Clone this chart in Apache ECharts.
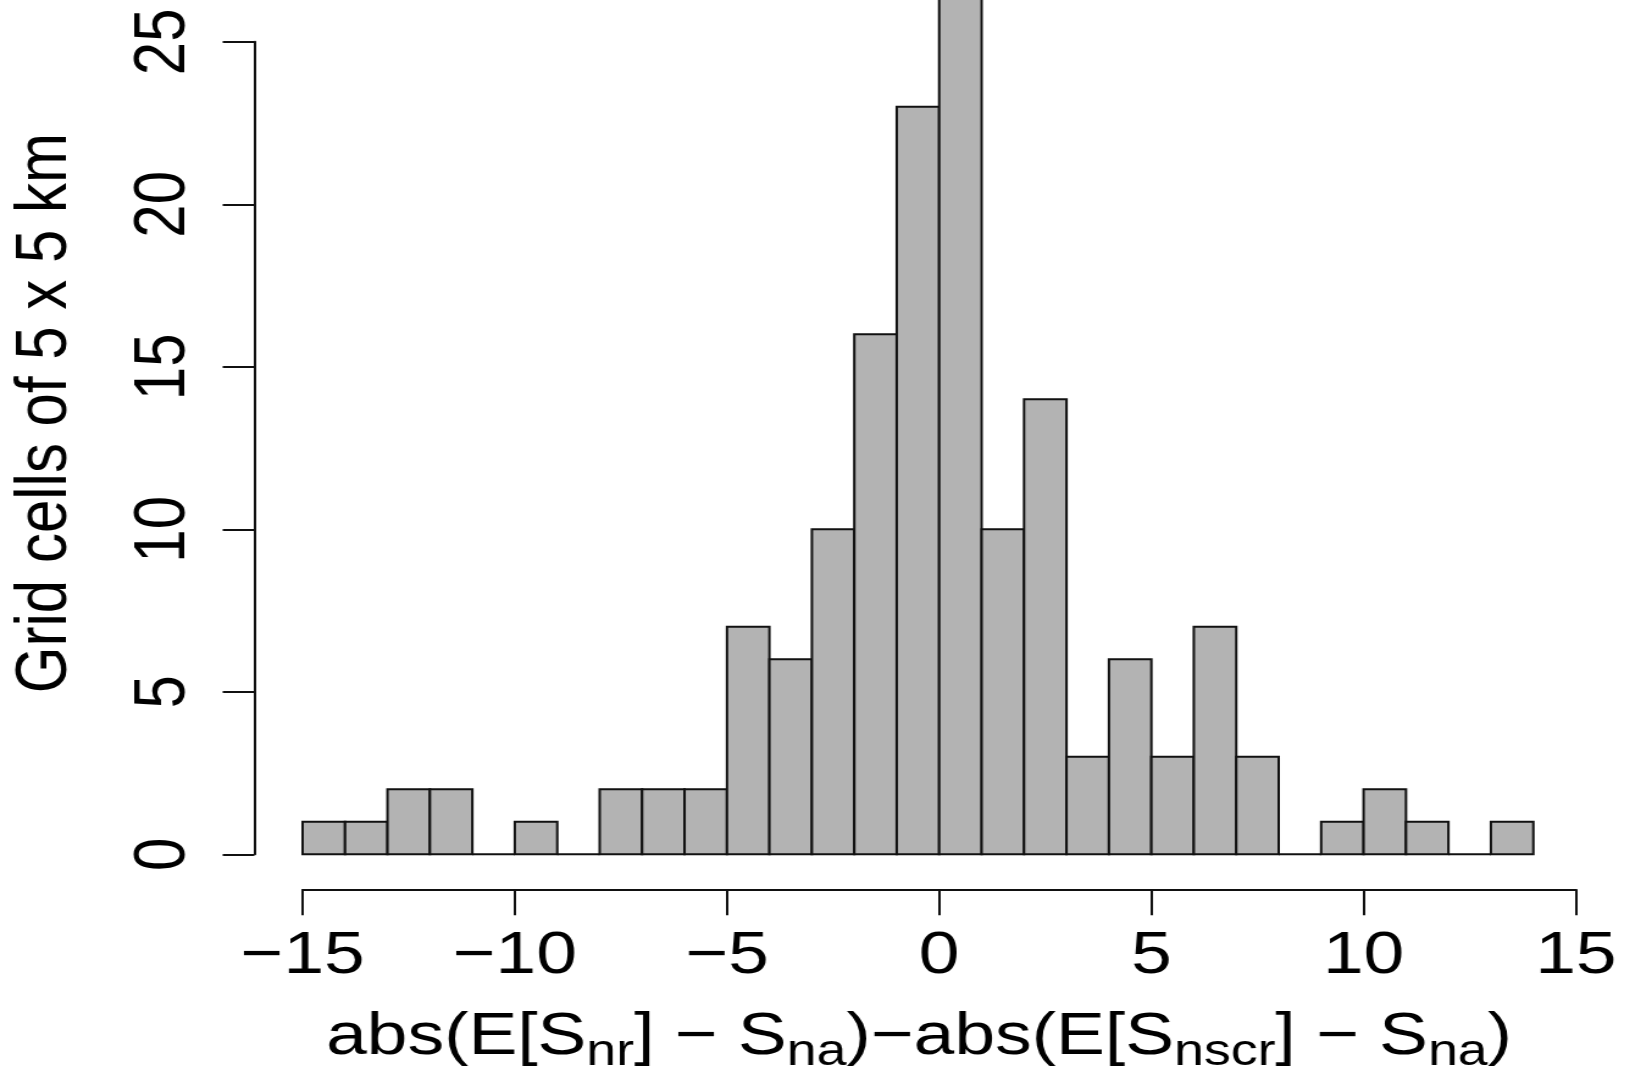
<!DOCTYPE html>
<html>
<head>
<meta charset="utf-8">
<script src="https://cdn.jsdelivr.net/npm/echarts@6/dist/echarts.min.js"></script>
<style>
  html, body { margin: 0; padding: 0; background: #fff; overflow: hidden; }
  #c { width: 1336px; height: 1075px; transform: scaleX(1.2201); transform-origin: 0 0; }
</style>
</head>
<body>
<div id="c"></div>
<script>
// Histogram bins (width 1) and counts
const binStarts = [-15,-14,-13,-12,-11,-10,-9,-8,-7,-6,-5,-4,-3,-2,-1,0,1,2,3,4,5,6,7,8,9,10,11,12,13];
const binWidth = 1;
const counts    = [1,1,2,2,0,1,0,2,2,2,7,6,10,16,23,27,10,14,3,6,3,7,3,0,1,2,1,0,1];
const xTickLabels = [-15,-10,-5,0,5,10,15];
const yTickLabels = [0,5,10,15,20,25];

const FONT = '"Liberation Sans", Arial, sans-serif';
const data = binStarts.map((s, i) => [s, s + binWidth, counts[i]]);

const chart = echarts.init(document.getElementById('c'), null, {renderer: 'canvas'});
chart.setOption({
  animation: false,
  backgroundColor: '#fff',
  grid: { left: 248, right: 44.5, top: 41.8, bottom: 220.7, containLabel: false, outerBoundsMode: 'none' },
  xAxis: {
    type: 'value',
    min: xTickLabels[0], max: xTickLabels[xTickLabels.length - 1], interval: 5,
    offset: 35,
    splitLine: { show: false },
    axisLine: { show: true, onZero: false, lineStyle: { color: '#111', width: 2 } },
    axisTick: { show: true, inside: false, length: 26, lineStyle: { color: '#111', width: 2 } },
    axisLabel: {
      margin: 37, fontSize: 60, fontFamily: FONT, color: '#000',
      formatter: v => String(v).replace('-', '\u2212')
    },
    name: '{n|abs(E[S}{s|nr}{n|] \u2212 S}{s|na}{n|)\u2212abs(E[S}{s|nscr}{n|] \u2212 S}{s|na}{n|)}',
    nameLocation: 'middle',
    nameGap: 118,
    nameTextStyle: {
      padding: [0, 33, 0, 0],
      rich: {
        n: { fontSize: 60, lineHeight: 60, fontFamily: FONT, color: '#000', verticalAlign: 'top' },
        s: { fontSize: 44, lineHeight: 44, fontFamily: FONT, color: '#000', verticalAlign: 'top', padding: [24, 0, 0, 0] }
      }
    }
  },
  yAxis: {
    type: 'value',
    min: yTickLabels[0], max: yTickLabels[yTickLabels.length - 1], interval: 5,
    offset: 39.5,
    splitLine: { show: false },
    axisLine: { show: true, onZero: false, lineStyle: { color: '#111', width: 2 } },
    axisTick: { show: true, inside: false, length: 26, lineStyle: { color: '#111', width: 2 } },
    axisLabel: { rotate: 90, margin: 44, fontSize: 60, fontFamily: FONT, color: '#000' },
    name: 'Grid cells of 5 x 5 km',
    nameLocation: 'middle',
    nameGap: 141,
    nameTextStyle: { fontSize: 60, fontFamily: FONT, color: '#000', padding: [0, 0, 0, 70] }
  },
  series: [{
    type: 'custom',
    clip: false,
    data: data,
    encode: { x: [0, 1], y: 2 },
    renderItem: function (params, api) {
      const x0 = api.value(0), x1 = api.value(1), c = api.value(2);
      const p0 = api.coord([x0, 0]);
      const p1 = api.coord([x1, c]);
      if (c === 0) {
        return { type: 'line', shape: { x1: p0[0], y1: p0[1], x2: p1[0], y2: p0[1] },
                 style: { stroke: '#111', lineWidth: 2 } };
      }
      return {
        type: 'rect',
        shape: { x: p0[0], y: p1[1], width: p1[0] - p0[0], height: p0[1] - p1[1] },
        style: { fill: '#b3b3b3', stroke: '#111', lineWidth: 2 }
      };
    }
  }]
});
</script>
</body>
</html>
